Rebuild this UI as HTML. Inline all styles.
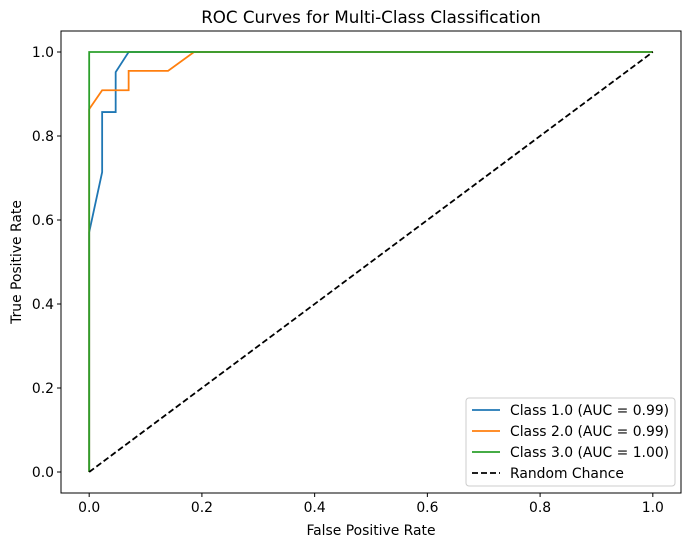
<!DOCTYPE html>
<html><head><meta charset="utf-8"><style>
body{margin:0;background:#fff;font-family:"DejaVu Sans","Liberation Sans",sans-serif;}
</style></head><body>
<svg id="chart" width="691" height="547" xmlns="http://www.w3.org/2000/svg" font-family="DejaVu Sans, Liberation Sans, sans-serif">
<rect width="691" height="547" fill="#fff"/>
<g id="plot"></g>
</svg>
<script>
const xTicks=[0,0.2,0.4,0.6,0.8,1.0];
const yTicks=[0,0.2,0.4,0.6,0.8,1.0];
const tickLabels=["0.0","0.2","0.4","0.6","0.8","1.0"];
const seriesNames=["Class 1.0 (AUC = 0.99)","Class 2.0 (AUC = 0.99)","Class 3.0 (AUC = 1.00)","Random Chance"];
const fpr1=[0,0,0.023,0.023,0.047,0.047,0.07,1];
const tpr1=[0,0.571,0.714,0.857,0.857,0.952,1,1];
const fpr2=[0,0,0.023,0.07,0.07,0.14,0.186,1];
const tpr2=[0,0.864,0.909,0.909,0.955,0.955,1,1];
const fpr3=[0,0,1];
const tpr3=[0,1,1];
const fprR=[0,1];
const tprR=[0,1];
const colors=["#1f77b4","#ff7f0e","#2ca02c","#000"];

const L=61,R=681,T=31,B=493;
const X=v=>L+(v+0.05)/1.1*(R-L);
const Y=v=>B-(v+0.05)/1.1*(B-T);
const NS="http://www.w3.org/2000/svg";
const g=document.getElementById('plot');
function mk(t,a,txt){const e=document.createElementNS(NS,t);for(const k in a)e.setAttribute(k,a[k]);if(txt!==undefined)e.textContent=txt;g.appendChild(e);return e;}

const series=[[fpr1,tpr1],[fpr2,tpr2],[fpr3,tpr3],[fprR,tprR]];
series.forEach((s,i)=>{
  const pts=s[0].map((x,j)=>X(x).toFixed(2)+","+Y(s[1][j]).toFixed(2)).join(" ");
  const p=mk('polyline',{points:pts,fill:"none",stroke:colors[i],"stroke-width":1.8,"stroke-dasharray":i==3?"6,3":"none"});
  
  
});
const frame=mk('rect',{x:L,y:T,width:R-L,height:B-T,fill:"none",stroke:"#000","stroke-width":1});


xTicks.forEach((v,i)=>{
  mk('line',{x1:X(v),x2:X(v),y1:B,y2:B+4,stroke:"#000"});
  const t=mk('text',{x:X(v),y:B+19,"text-anchor":"middle","font-size":13.9},tickLabels[i]);
  
  
});
yTicks.forEach((v,i)=>{
  mk('line',{x1:L-4,x2:L,y1:Y(v),y2:Y(v),stroke:"#000"});
  const t=mk('text',{x:L-7,y:Y(v)+5,"text-anchor":"end","font-size":13.9},tickLabels[i]);
  
  
});
const xt=mk('text',{x:(L+R)/2,y:535,"text-anchor":"middle","font-size":13.9},"False Positive Rate");


const yt=mk('text',{x:0,y:0,"text-anchor":"middle","font-size":13.9,transform:`translate(21,${(T+B)/2}) rotate(-90)`},"True Positive Rate");


const ti=mk('text',{x:(L+R)/2,y:23,"text-anchor":"middle","font-size":16.7},"ROC Curves for Multi-Class Classification");


const lg=mk('rect',{x:466,y:398,width:209,height:88,rx:3,fill:"#fff",stroke:"#ccc"});


seriesNames.forEach((n,i)=>{
  const y=410+i*21;
  mk('line',{x1:472,x2:500,y1:y,y2:y,stroke:colors[i],"stroke-width":1.8,"stroke-dasharray":i==3?"6,3":"none"});
  const t=mk('text',{x:510,y:y+5,"font-size":13.9},n);
  
  
});
</script>
</body></html>
